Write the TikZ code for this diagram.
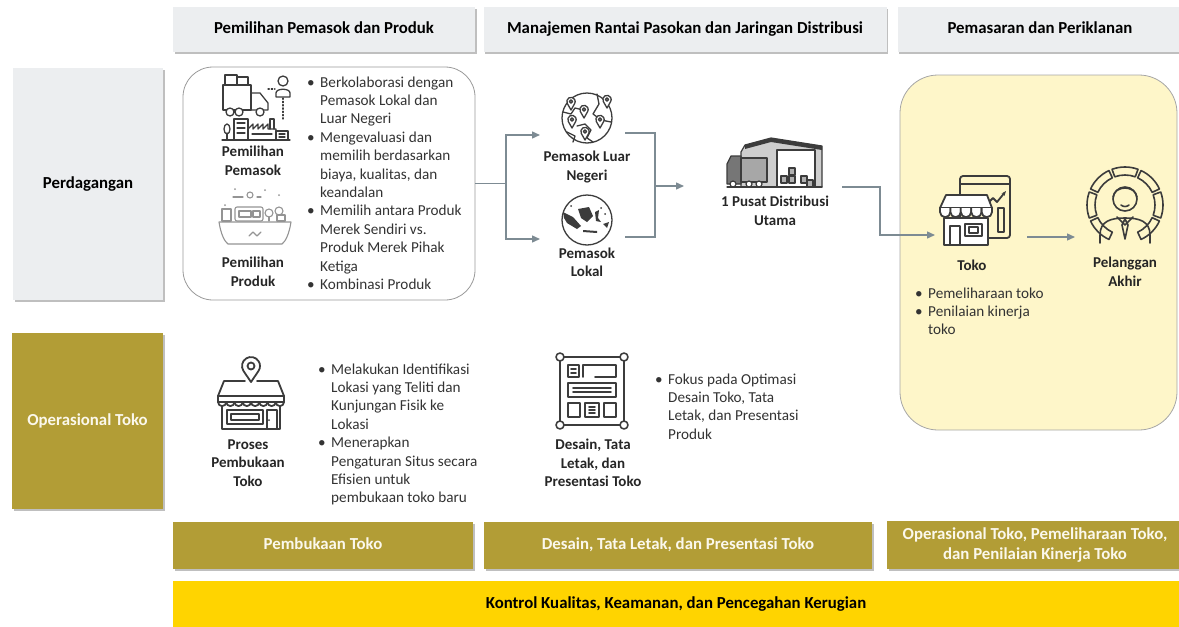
\documentclass[tikz,border=0pt]{standalone}
\usepackage{fontspec}
\setmainfont{Carlito}
\usepackage{tikz}
\usetikzlibrary{arrows.meta,shadows}
\definecolor{hdrgray}{HTML}{ECEEF0}
\definecolor{olive}{HTML}{B29D36}
\definecolor{gold}{HTML}{FFD400}
\definecolor{cream}{HTML}{FEF6C9}
\definecolor{arrgray}{HTML}{7D8B93}
\definecolor{icon}{HTML}{3C3C3C}
\definecolor{softwhite}{HTML}{FBF8EC}
\newcommand{\bigfont}{\fontsize{16.8}{20}\selectfont\bfseries}
\newcommand{\lblfont}{\fontsize{15}{18.5}\selectfont\bfseries}
\newcommand{\txtfont}{\fontsize{15.2}{18.4}\selectfont}
\newcommand{\bitem}{\makebox[13pt][l]{\textbullet}}

\begin{document}
\begin{tikzpicture}[x=1pt, y=-1pt,
    hdr/.style={fill=hdrgray, minimum height=45, inner sep=0, font=\bigfont,
                text height=11.5pt, text depth=3.5pt,
                drop shadow={shadow xshift=1.5pt, shadow yshift=-2pt, opacity=.5}},
    olivebox/.style={fill=olive, text=softwhite, font=\bigfont, align=center, inner sep=0,
                drop shadow={shadow xshift=1.5pt, shadow yshift=-2pt, opacity=.5}},
    oneline/.style={text height=11.5pt, text depth=3.5pt},
    lbl/.style={font=\lblfont, align=center, text=black!85, inner sep=0},
    txt/.style={font=\txtfont, anchor=base west, inner sep=0, text=black!80},
    con/.style={draw=arrgray, line width=1.4},
    arr/.style={con, -{Triangle[length=8pt,width=7pt]}},
    ico/.style={draw=icon, line width=1.6, line join=round, line cap=round},
    mappin/.pic={\draw[fill=white] (0,0) -- (-3.67,-6.46) arc[start angle=151,end angle=389,radius=4.2] -- cycle;
                 \draw (0,-8.5) circle (1.6);}]

\useasboundingbox (0,0) rectangle (1179,627);

%headers
\node[hdr, minimum width=302] (h1) at (324,29) {Pemilihan Pemasok dan Produk};
\node[hdr, minimum width=403] (h2) at (685,29) {Manajemen Rantai Pasokan dan Jaringan Distribusi};
\node[hdr, minimum width=285] (h3) at (1040,29) {Pemasaran dan Periklanan};

%row labels
\node[hdr, minimum width=150, minimum height=232] (dagang) at (88,184) {Perdagangan};
\node[olivebox, oneline, minimum width=151, minimum height=176] (ops) at (87.5,421) {Operasional Toko};

%frames
\node[draw=gray!80, line width=0.8, rounded corners=30, minimum width=292, minimum height=233] (pilih) at (329,183.5) {};
\node[draw=gray!70, fill=cream, line width=0.8, rounded corners=38, minimum width=277, minimum height=355] (pasar) at (1038.5,252.5) {};

%bottom bars
\node[olivebox, oneline, minimum width=300, minimum height=47] (b1) at (323,545.5) {Pembukaan Toko};
\node[olivebox, oneline, minimum width=388, minimum height=47] (b2) at (678,545.5) {Desain, Tata Letak, dan Presentasi Toko};
\node[olivebox, minimum width=296, minimum height=48] (b3) at (1035,545) {Operasional Toko, Pemeliharaan Toko,\\dan Penilaian Kinerja Toko};
\node[fill=gold, oneline, inner sep=0, font=\bigfont, minimum width=1006, minimum height=46] (kontrol) at (676,604) {Kontrol Kualitas, Keamanan, dan Pencegahan Kerugian};

%supplier icon
\begin{scope}[shift={(256,107)}, ico, line width=1.3]
\draw (-33,-22) rectangle (-5,3);
\draw (-31,-32) rectangle (-19,-22) (-19,-30) rectangle (-8,-22);
\draw (-5,-14) -- (4,-14) -- (12,-4) -- (12,3) -- (-5,3);
\draw[fill=white] (-26,5) circle (4) (-17,5) circle (4) (4,5) circle (4);
\draw (27,-26) circle (5);
\draw (20,-10) -- (20,-14) .. controls (20,-19) and (34,-19) .. (34,-14) -- (34,-10) -- cycle;
\draw[dotted] (12,-18) -- (19,-18) (27,-9) -- (27,12);
\draw (-34,33) -- (34,33);
\draw (-22,33) -- (-22,12) -- (-8,12) -- (-8,33);
\foreach \yy in {16,21,26} \draw (-19,\yy) -- (-11,\yy);
\draw (-8,22) -- (-3,17) -- (-3,22) -- (2,17) -- (2,22) -- (7,17) -- (7,22) -- (12,17) -- (12,22) -- (20,22) -- (20,33);
\draw (14,22) -- (14,12) -- (18,12) -- (18,22);
\draw (-4,27) -- (16,27);
\draw (20,24) rectangle (32,33);
\draw (23,27) -- (29,27) (23,30) -- (29,30);
\draw (-29,33) -- (-29,26);
\draw (-29,22) ellipse (3 and 5);
\end{scope}

%product icon
\begin{scope}[shift={(255,217)}, ico, draw=icon!55, line width=1.1]
\draw (-22,-20) -- (-12,-20) (2,-20) -- (6,-20);
\draw (-5,-22) circle (3);
\fill[icon!55] (-20,-28) circle (1) (10,-27) circle (1) (24,-22) circle (1) (-30,-12) circle (1);
\draw (-33,-8) rectangle (-24,4);
\draw[rounded corners=2] (-20,-10) rectangle (8,4);
\draw (-16,-6) rectangle (-4,0) (-2,-6) rectangle (5,0);
\draw (14,-4) circle (4);
\draw (14,0) -- (14,4);
\draw (24,-6) circle (4);
\draw (22,-2) rectangle (30,4);
\draw (-36,5) -- (36,5) .. controls (34,18) and (30,25) .. (27,27) -- (-27,27) .. controls (-30,25) and (-34,18) .. (-36,5);
\draw (-6,19) -- (-2,15) -- (2,19) -- (6,15);
\end{scope}

%globe with pins
\begin{scope}[shift={(587,118)}, ico, line width=1.3]
\draw (0,0) circle (25);
\draw (-24,-6) -- (-16,-4) -- (-12,-10) -- (-4,-8);
\draw (-10,8) -- (-2,6) -- (4,12) -- (0,20) -- (6,24);
\draw (10,-24) -- (12,-14) -- (6,-4) -- (14,2) -- (24,4);
\draw (-20,14) -- (-12,18) -- (-14,24);
\foreach \px/\py in {-16/-8, 20/-10, -3/0, -15/10, 13/10, -2/22}
  \pic at (\px,\py) {mappin};
\end{scope}

%globe Indonesia
\begin{scope}[shift={(587,220)}, ico, line width=1.3]
\draw (0,0) circle (25);
\fill[icon] (-24,-8) -- (-14,-3) -- (-6,6) -- (-10,9) -- (-20,3) -- (-23,-2) -- cycle;
\fill[icon] (-9,-11) -- (2,-13) -- (6,-4) -- (0,2) -- (-6,-2) -- cycle;
\fill[icon] (-4,10) -- (10,11) -- (10,13) -- (-4,12) -- cycle;
\fill[icon] (8,-8) -- (12,-10) -- (11,-2) -- (14,2) -- (9,1) -- cycle;
\fill[icon] (16,4) -- (22,2) -- (20,8) -- cycle;
\fill[icon] (-16,-14) circle (1) (14,-12) circle (1) (18,-6) circle (1);
\end{scope}

%warehouse
\begin{scope}[shift={(775,162)}, ico, line width=1.2]
\draw[fill=icon!25] (-34,25) -- (-34,-10) -- (-30,-17) -- (-4,-24) -- (47,-16) -- (47,25) -- cycle;
\fill[icon] (-30,-17) -- (-4,-24) -- (47,-16) -- (47,-12) -- (-4,-20) -- (-30,-13) -- cycle;
\draw[fill=white] (2,-12) rectangle (40,25);
\foreach \bx/\by in {6/14, 14/14, 14/6, 26/14, 32/18}
  \draw[fill=icon!40] (\bx,\by) rectangle ++(6,7);
\draw[fill=icon!70] (-48,2) -- (-44,-6) -- (-34,-6) -- (-34,22) -- (-48,22) -- cycle;
\draw[fill=icon!45] (-34,-4) rectangle (-8,20);
\draw[fill=white] (-42,22) circle (3) (-26,22) circle (3) (-16,22) circle (3);
\draw (-48,25) -- (47,25);
\end{scope}

%toko icon
\begin{scope}[shift={(975,210)}, ico, line width=1.8]
\draw[rounded corners=3] (-15,-34) rectangle (35,28);
\draw (-15,-26) -- (35,-26);
\draw[-{Stealth[length=5pt]}] (12,-6) -- (18,-12) -- (22,-8) -- (31,-19);
\draw (23,-2) rectangle (29,22);
\draw[fill=white] (-31,8) rectangle (13,35);
\draw[fill=white] (-35,-2) -- (-29,-15) -- (12,-15) -- (17,-2) -- cycle;
\foreach \i in {0,...,4}
  \draw[fill=white] (-35+\i*10.4,-2) -- ++(0,4) arc[start angle=180,end angle=0,radius=5.2] -- ++(0,-4);
\draw (-25,16) rectangle (-15,35);
\draw (-10,14) rectangle (7,26);
\draw (-6,17) rectangle (3,23);
\end{scope}

%pelanggan icon
\begin{scope}[shift={(1125,205)}, ico, line width=1.6]
\foreach \a/\b in {115/155, 160/200, 205/245, 250/290, 295/335, 340/380, 385/425}
  \draw (\a:30) arc[start angle=\a, end angle=\b, radius=30] -- (\b:38) arc[start angle=\b, end angle=\a, radius=38] -- cycle;
\draw (0,-6) circle (12);
\draw (-12,-8) .. controls (-10,-20) and (10,-20) .. (12,-8);
\draw (-4,0) .. controls (-2,2) and (2,2) .. (4,0);
\draw (-25,38) -- (-25,30) .. controls (-25,16) and (-14,13) .. (0,13) .. controls (14,13) and (25,16) .. (25,30) -- (25,38);
\draw (0,14) -- (-3,20) -- (0,34) -- (3,20) -- cycle;
\draw (-8,12) -- (0,20) -- (8,12);
\end{scope}

%store with pin
\begin{scope}[shift={(251,393)}, ico, line width=1.8]
\draw (0,-11) -- (-7.55,-22.1) arc[start angle=147,end angle=393,radius=9] -- cycle;
\draw (0,-27) circle (3.5);
\draw (-6,-12) -- (-27,-12) -- (-33,3) (6,-12) -- (27,-12) -- (33,3);
\draw (-33,3) rectangle (33,9);
\foreach \i in {0,...,7}
  \draw (-33+8.25*\i,9) arc[start angle=180,end angle=0,radius=4.125];
\draw (-29,13) -- (-29,36) -- (29,36) -- (29,13);
\draw (-24,17) rectangle (12,31);
\draw (-20,21) rectangle (8,27);
\draw (16,17) rectangle (26,36);
\fill[icon] (18,27) circle (1);
\end{scope}

%layout icon
\begin{scope}[shift={(592,391)}, ico, line width=1.6]
\draw (-32,-34) rectangle (32,34);
\foreach \cx/\cy in {-32/-34, 32/-34, -32/34, 32/34}
  \draw[fill=white] (\cx,\cy) circle (4);
\draw (-24,-26) rectangle (-13,-14);
\draw (-21,-22) -- (-16,-22) (-21,-18) -- (-16,-18);
\draw (-9,-14) -- (-9,-26) -- (24,-26) -- (24,-14) -- (3,-14);
\draw (-24,-8) rectangle (24,6);
\draw (-19,-3) -- (19,-3) (-19,1) -- (19,1);
\draw (-24,12) rectangle (-12,26) (-7,12) rectangle (7,26) (12,12) rectangle (24,26);
\draw (-3,16) -- (3,16) (-3,19) -- (3,19) (-3,22) -- (3,22);
\end{scope}

%labels
\node[lbl] (lpemasok) at (253,161) {Pemilihan\\Pemasok};
\node[lbl] (lproduk) at (253,272) {Pemilihan\\Produk};
\node[lbl] (luar) at (587,167) {Pemasok Luar\\Negeri};
\node[lbl] (lokal) at (587,262.5) {Pemasok\\Lokal};
\node[lbl] (pusat) at (775,211) {1 Pusat Distribusi\\Utama};
\node[lbl] (toko) at (972,265) {Toko};
\node[lbl] (pelanggan) at (1125,271.5) {Pelanggan\\Akhir};
\node[lbl] (proses) at (248,463) {Proses\\Pembukaan\\Toko};
\node[lbl] (desain) at (593,463) {Desain, Tata\\Letak, dan\\Presentasi Toko};

%bullet lists
\node[txt] (pilihlist) at (307,87) {\begin{tabular}[t]{@{}l@{}l@{}}
  \bitem & Berkolaborasi dengan\\ & Pemasok Lokal dan\\ & Luar Negeri\\
  \bitem & Mengevaluasi dan\\ & memilih berdasarkan\\ & biaya, kualitas, dan\\ & keandalan\\
  \bitem & Memilih antara Produk\\ & Merek Sendiri vs.\\ & Produk Merek Pihak\\ & Ketiga\\
  \bitem & Kombinasi Produk\end{tabular}};
\node[txt] (tokolist) at (915,298) {\begin{tabular}[t]{@{}l@{}l@{}}
  \bitem & Pemeliharaan toko\\
  \bitem & Penilaian kinerja\\ & toko\end{tabular}};
\node[txt] (proseslist) at (318,374) {\begin{tabular}[t]{@{}l@{}l@{}}
  \bitem & Melakukan Identifikasi\\ & Lokasi yang Teliti dan\\ & Kunjungan Fisik ke\\ & Lokasi\\
  \bitem & Menerapkan\\ & Pengaturan Situs secara\\ & Efisien untuk\\ & pembukaan toko baru\end{tabular}};
\node[txt] (desainlist) at (655,384) {\begin{tabular}[t]{@{}l@{}l@{}}
  \bitem & Fokus pada Optimasi\\ & Desain Toko, Tata\\ & Letak, dan Presentasi\\ & Produk\end{tabular}};

%connectors
\coordinate (fork) at (506,183.5);
\coordinate (luarIn) at (540,135);
\coordinate (lokalIn) at (540,239);
\coordinate (luarOut) at (625,133);
\coordinate (lokalOut) at (625,237);
\coordinate (join) at (655,186);
\coordinate (pusatIn) at (684,186);
\coordinate (pusatOut) at (842,187);
\coordinate (bend) at (880,187);
\coordinate (tokoIn) at (935,235);
\coordinate (tokoOut) at (1027,237);
\coordinate (pelIn) at (1075,237);

\draw[con] (pilih.east) -- (fork);
\draw[arr] (fork) |- (luarIn);
\draw[arr] (fork) |- (lokalIn);
\draw[con] (luarOut) -| (join) |- (lokalOut);
\draw[arr] (join) -- (pusatIn);
\draw[arr] (pusatOut) -- (bend) |- (tokoIn);
\draw[arr] (tokoOut) -- (pelIn);

\end{tikzpicture}
\end{document}
